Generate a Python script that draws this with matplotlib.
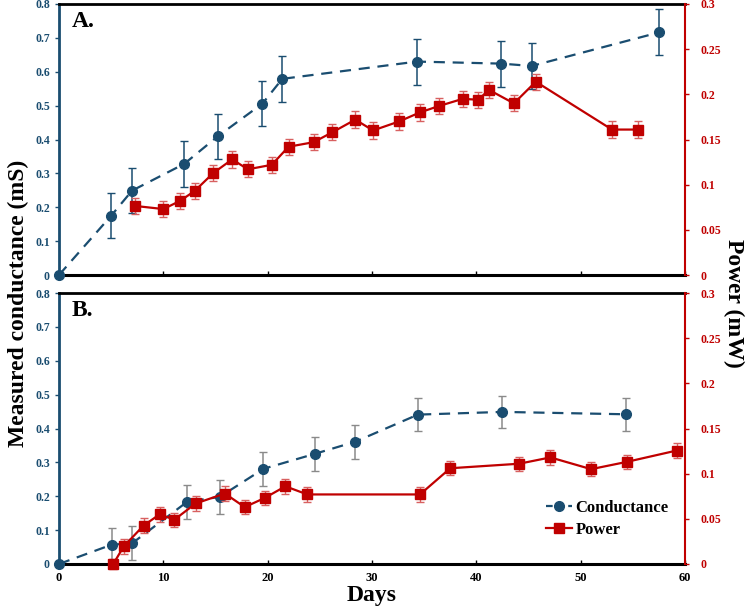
import matplotlib
matplotlib.use("Agg")
import matplotlib.pyplot as plt
from matplotlib.lines import Line2D

plt.rcParams['font.family'] = ['Liberation Serif', 'DejaVu Serif']
plt.rcParams['font.weight'] = 'bold'

BLUE = '#1a4d70'
RED = '#c00000'

# Panel A data
a_cond_days = [0, 5, 7, 12, 15.2, 19.5, 21.4, 34.3, 42.4, 45.3, 57.5]
a_cond = [0.0, 0.175, 0.249, 0.328, 0.409, 0.506, 0.579, 0.630, 0.624, 0.617, 0.716]
a_cond_err = [0.0, 0.066, 0.067, 0.068, 0.067, 0.067, 0.067, 0.068, 0.068, 0.067, 0.068]
a_pow_days = [7.25, 10.0, 11.6, 13.0, 14.8, 16.6, 18.1, 20.4, 22.0, 24.4, 26.2, 28.4,
              30.1, 32.6, 34.6, 36.4, 38.7, 40.2, 41.2, 43.6, 45.7, 53.0, 55.5]
a_pow = [0.0765, 0.073, 0.082, 0.093, 0.113, 0.128, 0.117, 0.122, 0.142, 0.147, 0.158, 0.172,
         0.160, 0.170, 0.180, 0.187, 0.195, 0.194, 0.205, 0.190, 0.214, 0.161, 0.161]
a_pow_err = [0.009] * len(a_pow)

# Panel B data
b_cond_days = [0, 5.05, 7.0, 12.3, 15.4, 19.6, 24.5, 28.4, 34.4, 42.5, 54.3]
b_cond = [0.0, 0.057, 0.061, 0.184, 0.198, 0.281, 0.325, 0.361, 0.441, 0.449, 0.442]
b_cond_err = [0.0, 0.05, 0.05, 0.05, 0.05, 0.05, 0.05, 0.05, 0.048, 0.048, 0.048]
b_pow_days = [5.2, 6.2, 8.1, 9.65, 11.05, 13.1, 15.9, 17.8, 19.7, 21.7, 23.8,
              34.6, 37.5, 44.1, 47.1, 51.0, 54.4, 59.2]
b_pow = [0.0, 0.0194, 0.0425, 0.055, 0.049, 0.067, 0.078, 0.063, 0.073, 0.086, 0.077,
         0.077, 0.106, 0.111, 0.118, 0.105, 0.113, 0.1256]
b_pow_err = [0.006, 0.008, 0.008, 0.008, 0.008, 0.008, 0.008, 0.008, 0.008, 0.008, 0.008,
             0.008, 0.008, 0.008, 0.008, 0.008, 0.008, 0.008]

cond_ticks = [0, 0.1, 0.2, 0.3, 0.4, 0.5, 0.6, 0.7, 0.8]
cond_ticklabels = ['0', '0.1', '0.2', '0.3', '0.4', '0.5', '0.6', '0.7', '0.8']
pow_ticks = [0, 0.05, 0.1, 0.15, 0.2, 0.25, 0.3]
pow_ticklabels = ['0', '0.05', '0.1', '0.15', '0.2', '0.25', '0.3']
day_ticks = [0, 10, 20, 30, 40, 50, 60]

fig = plt.figure(figsize=(7.5, 6.07), dpi=100)
L, R = 59 / 750, 685 / 750
axA = fig.add_axes([L, 1 - 275 / 607, R - L, (275 - 4) / 607])
axB = fig.add_axes([L, 1 - 564 / 607, R - L, (564 - 293) / 607])


def setup(ax, cd, c, ce, pd, p, pe, cond_err_color, label_x, panel):
    ax.set_xlim(0, 60)
    ax.set_ylim(0, 0.8)
    ax.errorbar(cd, c, yerr=ce, color=BLUE, ls=(0, (5, 3.5)), lw=1.6, marker='o', ms=7,
                ecolor=cond_err_color, elinewidth=1.1, capsize=3, capthick=1, zorder=3, clip_on=False)
    ax.set_yticks(cond_ticks)
    ax.set_yticklabels(cond_ticklabels)
    ax.tick_params(axis='y', colors=BLUE, labelsize=8.5, direction='out', length=3, width=1)
    ax.tick_params(axis='x', direction='in', length=3, width=1, labelsize=9, colors='black', pad=6)
    ax.set_xticks(day_ticks)
    if not label_x:
        ax.set_xticklabels([])
    for lab in ax.get_yticklabels() + ax.get_xticklabels():
        lab.set_fontweight('bold')
    ax.spines['left'].set_color(BLUE)
    ax.spines['left'].set_linewidth(2)
    ax.spines['top'].set_linewidth(2)
    ax.spines['bottom'].set_linewidth(2.2)
    ax.spines['right'].set_visible(False)
    tw = ax.twinx()
    tw.set_ylim(0, 0.3)
    tw.errorbar(pd, p, yerr=pe, color=RED, ls='-', lw=1.6, marker='s', ms=7,
                ecolor='#d86060', elinewidth=1, capsize=3, capthick=1, zorder=3, clip_on=False)
    tw.set_yticks(pow_ticks)
    tw.set_yticklabels(pow_ticklabels)
    tw.tick_params(axis='y', colors=RED, labelsize=8.5, direction='out', length=3, width=1, pad=8)
    for lab in tw.get_yticklabels():
        lab.set_fontweight('bold')
    tw.spines['right'].set_color(RED)
    tw.spines['right'].set_linewidth(1.5)
    tw.spines['left'].set_visible(False)
    tw.spines['top'].set_visible(False)
    tw.spines['bottom'].set_visible(False)
    ax.text(0.02, 0.975, panel, transform=ax.transAxes, fontsize=17, fontweight='bold',
            va='top', ha='left')
    return tw


twA = setup(axA, a_cond_days, a_cond, a_cond_err, a_pow_days, a_pow, a_pow_err, BLUE, False, 'A.')
twB = setup(axB, b_cond_days, b_cond, b_cond_err, b_pow_days, b_pow, b_pow_err, '#8a8a8a', True, 'B.')

handles = [Line2D([0], [0], color=BLUE, ls=(0, (3, 2)), lw=1.6, marker='o', ms=7),
           Line2D([0], [0], color=RED, ls='-', lw=1.6, marker='s', ms=7)]
twB.legend(handles, ['Conductance', 'Power'], loc='lower right', bbox_to_anchor=(0.998, 0.042),
           frameon=False, prop={'weight': 'bold', 'size': 12}, handlelength=1.6,
           handletextpad=0.2, labelspacing=0.35)

fig.text(0.024, 0.5, 'Measured conductance (mS)', rotation=90, ha='center', va='center',
         fontsize=17, fontweight='bold')
fig.text(0.978, 0.5, 'Power (mW)', rotation=270, ha='center', va='center',
         fontsize=17, fontweight='bold')
fig.text((L + R) / 2, 1 - 595 / 607, 'Days', ha='center', va='center',
         fontsize=17, fontweight='bold')

fig.savefig('out.png', dpi=100)
